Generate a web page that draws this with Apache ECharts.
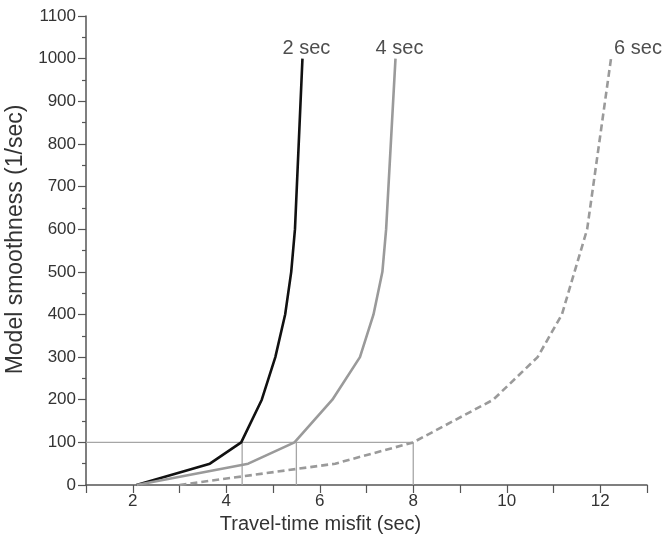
<!DOCTYPE html>
<html>
<head>
<meta charset="utf-8">
<script src="https://cdn.jsdelivr.net/npm/echarts@6/dist/echarts.min.js"></script>
<style>
html,body{margin:0;padding:0;background:#fff;}
#chart{width:667px;height:545px;}
</style>
</head>
<body>
<div id="chart"></div>
<script>
// Data
const seriesNames = ['2 sec', '4 sec', '6 sec'];
const smoothness = [0, 50, 100, 200, 300, 400, 500, 600, 1000];
const misfit2 = [2.08, 3.65, 4.32, 4.76, 5.05, 5.26, 5.39, 5.47, 5.63];
const misfit4 = [2.08, 4.47, 5.46, 6.27, 6.86, 7.15, 7.34, 7.42, 7.62];
const smoothness6 = [0, 50, 100, 200, 300, 400, 500, 600, 1000];
const misfit6 = [3.0, 6.33, 8.0, 9.71, 10.66, 11.18, 11.45, 11.72, 12.23];
const guideLevel = 100;
const guideX = [4.34, 5.5, 8.0];
const xMin = 1, xMax = 13;
const yMin = 0, yMax = 1100;

const FONT = 'Liberation Sans';

function pairs(xs, ys) { return xs.map((x, i) => [x, ys[i]]); }

const guideColor = '#a6a6a6';
const guideSeries = [];
guideSeries.push({
  type: 'line', silent: true, showSymbol: false, z: 1,
  lineStyle: { color: guideColor, width: 1.3 },
  data: [[xMin, guideLevel], [guideX[guideX.length - 1], guideLevel]]
});
guideX.forEach(gx => {
  guideSeries.push({
    type: 'line', silent: true, showSymbol: false, z: 1,
    lineStyle: { color: guideColor, width: 1.3 },
    data: [[gx, yMin], [gx, guideLevel]]
  });
});

function labelSeries(xs, ys, text, offset) {
  const n = xs.length - 1;
  return {
    type: 'scatter', silent: true, symbolSize: 0, z: 5,
    data: [[xs[n], ys[n]]],
    label: {
      show: true, formatter: text, position: 'top', distance: 0,
      offset: offset, color: '#222', fontSize: 20, fontFamily: FONT
    }
  };
}

const chart = echarts.init(document.getElementById('chart'), null, { renderer: 'canvas' });
chart.setOption({
  backgroundColor: '#fff',
  animation: false,
  grid: { left: 86, right: 20, top: 16, bottom: 60, containLabel: false, outerBoundsMode: 'none' },
  xAxis: {
    type: 'value', min: xMin, max: xMax, interval: 1,
    name: 'Travel-time misfit (sec)', nameLocation: 'middle', nameGap: 26,
    nameTextStyle: { fontSize: 20, color: '#333', fontFamily: FONT, padding: [0, 92, 0, 0] },
    axisLine: { lineStyle: { color: '#555', width: 1.5 } },
    axisTick: { show: true, length: 8, lineStyle: { color: '#555', width: 1.2 } },
    axisLabel: {
      fontSize: 17, color: '#333', fontFamily: FONT, margin: 8,
      formatter: v => (v % 2 === 0 ? String(v) : '')
    },
    splitLine: { show: false }
  },
  yAxis: {
    type: 'value', min: yMin, max: yMax, interval: 100,
    name: 'Model smoothness (1/sec)', nameLocation: 'middle', nameGap: 56,
    nameTextStyle: { fontSize: 23, color: '#333', fontFamily: FONT, padding: [0, 0, 0, 22] },
    axisLine: { show: true, lineStyle: { color: '#555', width: 1.5 } },
    axisTick: { show: true, length: 8, lineStyle: { color: '#555', width: 1.2 } },
    minorTick: { show: true, splitNumber: 2, length: 4, lineStyle: { color: '#555', width: 1.2 } },
    axisLabel: { fontSize: 17, color: '#333', fontFamily: FONT, margin: 10, formatter: v => String(v) },
    splitLine: { show: false }
  },
  series: guideSeries.concat([
    {
      name: seriesNames[0], type: 'line', showSymbol: false, z: 3,
      lineStyle: { color: '#111', width: 2.6 },
      data: pairs(misfit2, smoothness)
    },
    {
      name: seriesNames[1], type: 'line', showSymbol: false, z: 3,
      lineStyle: { color: '#9a9a9a', width: 2.6 },
      data: pairs(misfit4, smoothness)
    },
    {
      name: seriesNames[2], type: 'line', showSymbol: false, z: 3,
      lineStyle: { color: '#9a9a9a', width: 2.6, type: [7, 4] },
      data: pairs(misfit6, smoothness6)
    },
    labelSeries(misfit2, smoothness, seriesNames[0], [4, 0]),
    labelSeries(misfit4, smoothness, seriesNames[1], [4, 0]),
    labelSeries(misfit6, smoothness6, seriesNames[2], [27, 0])
  ])
});
</script>
</body>
</html>
